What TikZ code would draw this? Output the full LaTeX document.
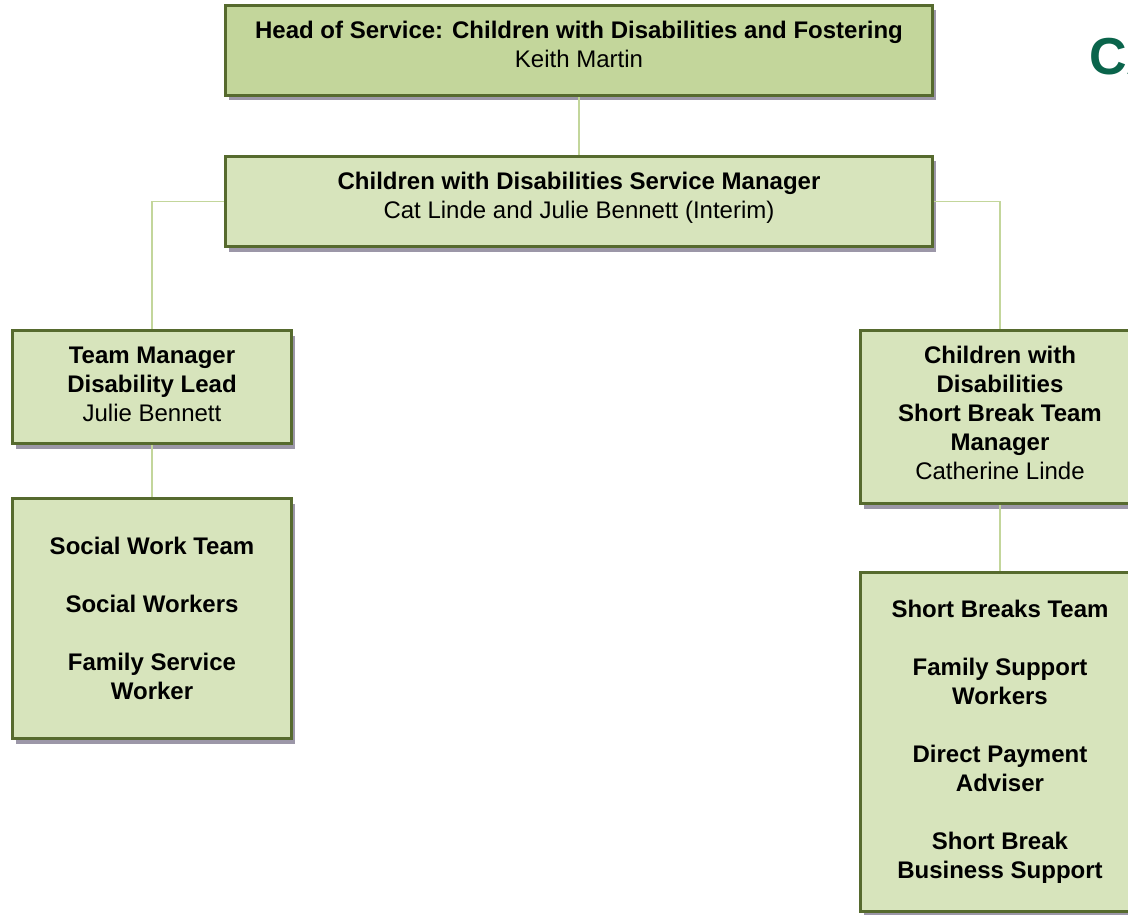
\documentclass[tikz,border=0pt]{standalone}
\usepackage{fontspec}
\setmainfont{Liberation Sans}
\usetikzlibrary{shadows}
\definecolor{headfill}{RGB}{195,214,155}
\definecolor{boxfill}{RGB}{215,228,188}
\definecolor{boxline}{RGB}{86,106,46}
\definecolor{boxshadow}{RGB}{156,151,168}
\definecolor{logogreen}{RGB}{10,100,75}
\tikzset{
  box/.style={draw=boxline, line width=2.6pt, fill=boxfill, align=center, inner sep=0pt,
    font=\fontsize{24}{29}\selectfont,
    drop shadow={shadow xshift=3pt, shadow yshift=-5pt, opacity=1, fill=boxshadow}},
  link/.style={draw=headfill, line width=1.5pt}
}
\begin{document}
\begin{tikzpicture}[x=1pt,y=-1pt]
  \useasboundingbox (0,0) rectangle (1128,915);
  \node[box, fill=headfill, minimum width=707, minimum height=90, text depth=13] at (579,50.5) (head)
    {\textbf{Head of Service: Children with Disabilities and Fostering}\\Keith Martin};
  \node[box, minimum width=707, minimum height=90, text depth=12] at (579,201.5) (manager)
    {\textbf{Children with Disabilities Service Manager}\\Cat Linde and Julie Bennett (Interim)};
  \node[box, minimum width=279, minimum height=113, text depth=5] at (152,387) (lead)
    {\textbf{Team Manager}\\\textbf{Disability Lead}\\Julie Bennett};
  \node[box, minimum width=279, minimum height=240] at (152,618.5) (socialteam)
    {\textbf{Social Work Team}\\[29pt]\textbf{Social Workers}\\[29pt]\textbf{Family Service}\\\textbf{Worker}};
  \node[box, minimum width=279, minimum height=173, text depth=9] at (1000,417) (breakmanager)
    {\textbf{Children with}\\\textbf{Disabilities}\\\textbf{Short Break Team}\\\textbf{Manager}\\Catherine Linde};
  \node[box, minimum width=279, minimum height=339] at (1000,742) (breakteam)
    {\textbf{Short Breaks Team}\\[29pt]\textbf{Family Support}\\\textbf{Workers}\\[29pt]\textbf{Direct Payment}\\\textbf{Adviser}\\[29pt]\textbf{Short Break}\\\textbf{Business Support}};
  \node[anchor=west, inner sep=0pt, text=logogreen, font=\fontsize{52}{52}\selectfont\bfseries] at (1089,57) (logo) {CA};
  \draw[link] (head.south) -- (manager.north);
  \draw[link] (manager.west) -| (lead.north);
  \draw[link] (manager.east) -| (breakmanager.north);
  \draw[link] (lead.south) -- (socialteam.north);
  \draw[link] (breakmanager.south) -- (breakteam.north);
\end{tikzpicture}
\end{document}
